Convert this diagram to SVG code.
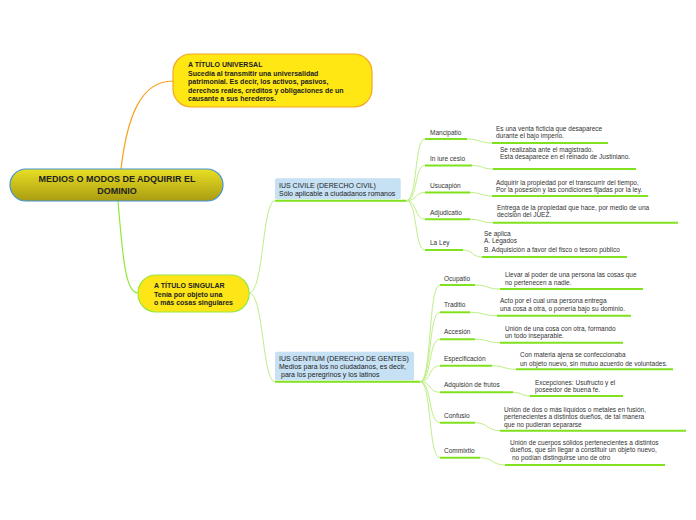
<svg xmlns="http://www.w3.org/2000/svg" width="696" height="520" viewBox="0 0 696 520">
<defs>
<linearGradient id="rootGrad" x1="0" y1="0" x2="0" y2="1">
<stop offset="0" stop-color="#e9df22"/>
<stop offset="1" stop-color="#a99c12"/>
</linearGradient>
</defs>
<style>
text{font-family:"Liberation Sans",Arial,sans-serif;fill:#222}
.b{font-weight:bold}
.t9{font-size:9px}
.t7{font-size:7px}
.t65{font-size:6.5px;fill:#333}
.c{fill:none;stroke:#bdef85;stroke-width:1}
.ul{stroke:#80e21e;stroke-width:2;fill:none}
.sub{fill:#c6e0f4}
</style>
<rect width="696" height="520" fill="#ffffff"/>
<g id="connectors">
<path d="M121,169 C127,118 140,81 173,81" fill="none" stroke="#f7a21c" stroke-width="1.2"/>
<path d="M118,201 C123,262 126,293 138,293" fill="none" stroke="#8fe83a" stroke-width="1.2"/>
<path class="c" d="M249,293 C264,293 262,200.7 275,200.7"/>
<path class="c" d="M249,293 C264,293 262,381.7 275,381.7"/>
<path class="c" d="M406,200.7 C418,200.7 414,139 425,139"/>
<path class="c" d="M406,200.7 C418,200.7 414,165.5 425,165.5"/>
<path class="c" d="M406,200.7 C418,200.7 414,192.5 425,192.5"/>
<path class="c" d="M406,200.7 C418,200.7 414,219.3 425,219.3"/>
<path class="c" d="M406,200.7 C418,200.7 414,250 425,250"/>
<path class="c" d="M420,381.7 C432,381.7 428,285 440,285"/>
<path class="c" d="M420,381.7 C432,381.7 428,312.3 440,312.3"/>
<path class="c" d="M420,381.7 C432,381.7 428,339.3 440,339.3"/>
<path class="c" d="M420,381.7 C432,381.7 428,365.7 440,365.7"/>
<path class="c" d="M420,381.7 C432,381.7 428,392.3 440,392.3"/>
<path class="c" d="M420,381.7 C432,381.7 428,422.7 440,422.7"/>
<path class="c" d="M420,381.7 C432,381.7 428,457.7 440,457.7"/>
<path class="c" d="M467,139 C480,139 479,143 492,143"/>
<path class="c" d="M472,165.5 C483,165.5 482,169 493,169"/>
<path class="c" d="M470,192.5 C481,192.5 481,196 492,196"/>
<path class="c" d="M470,219.3 C482,219.3 481,222.7 493,222.7"/>
<path class="c" d="M463,250 C473,250 472,257 482,257"/>
<path class="c" d="M475,285 C488,285 487,289 500,289"/>
<path class="c" d="M470,312.3 C484,312.3 483,315.7 497,315.7"/>
<path class="c" d="M475,339.3 C488,339.3 487,342.7 500,342.7"/>
<path class="c" d="M492,365.7 C504,365.7 504,369.3 516,369.3"/>
<path class="c" d="M513,392.3 C522,392.3 521,396 530,396"/>
<path class="c" d="M475,422.7 C488,422.7 487,430.7 500,430.7"/>
<path class="c" d="M480,457.7 C493,457.7 492,465 505,465"/>
</g>
<g id="root">
<rect x="10" y="169" width="213" height="32" rx="16" fill="url(#rootGrad)" stroke="#3f93d8" stroke-width="1.2"/>
<text class="b t9" x="117" y="182.3" text-anchor="middle">MEDIOS O MODOS DE ADQUIRIR EL</text>
<text class="b t9" x="117" y="193.5" text-anchor="middle">DOMINIO</text>
</g>
<g id="universal">
<rect x="173" y="54" width="199" height="53" rx="18" fill="#ffe714" stroke="#f5a623" stroke-width="1.2"/>
<text class="b t7" x="188" y="67">A TÍTULO UNIVERSAL</text>
<text class="b t7" x="188" y="75.5">Sucedía al transmitir una universalidad</text>
<text class="b t7" x="188" y="84.2">patrimonial. Es decir, los activos, pasivos,</text>
<text class="b t7" x="188" y="92.8">derechos reales, créditos y obligaciones de un</text>
<text class="b t7" x="188" y="101.3">causante a sus herederos.</text>
</g>
<g id="singular">
<rect x="138" y="275" width="111" height="37" rx="18" fill="#fde517" stroke="#97e83e" stroke-width="1.2"/>
<text class="b t7" x="154" y="288.3">A TÍTULO SINGULAR</text>
<text class="b t7" x="154" y="296.6">Tenía por objeto una</text>
<text class="b t7" x="154" y="305.2">o más cosas singulares</text>
</g>
<g id="ius-civile">
<rect class="sub" x="275" y="178.3" width="125.7" height="21" rx="2"/>
<line class="ul" x1="275" y1="200.7" x2="406" y2="200.7"/>
<text class="t7" x="279" y="187.6">IUS CIVILE (DERECHO CIVIL)</text>
<text class="t7" x="279" y="195.8">Sólo aplicable a ciudadanos romanos</text>
</g>
<g id="ius-gentium">
<rect class="sub" x="275" y="351.7" width="139" height="28.5" rx="2"/>
<line class="ul" x1="275" y1="381.7" x2="420" y2="381.7"/>
<text class="t7" x="279" y="360.8">IUS GENTIUM (DERECHO DE GENTES)</text>
<text class="t7" x="279" y="368.6">Medios para los no ciudadanos, es decir,</text>
<text class="t7" x="281" y="376.8">para los peregrinos y los latinos</text>
</g>
<g id="mancipatio">
<line class="ul" x1="425" y1="139" x2="467" y2="139"/>
<text class="t65" x="430" y="134.5">Mancipatio</text>
</g>
<g id="mancipatio-desc">
<line class="ul" x1="492" y1="143" x2="608" y2="143"/>
<text class="t65" x="496" y="130.5">Es una venta ficticia que desaparece</text>
<text class="t65" x="496" y="138">durante el bajo imperio.</text>
</g>
<g id="in-iure-cesio">
<line class="ul" x1="425" y1="165.5" x2="472" y2="165.5"/>
<text class="t65" x="430" y="160.5">In iure cesio</text>
</g>
<g id="in-iure-cesio-desc">
<line class="ul" x1="493" y1="169" x2="636" y2="169"/>
<text class="t65" x="500" y="151.5">Se realizaba ante el magistrado.</text>
<text class="t65" x="500" y="158.5">Esta desaparece en el reinado de Justiniano.</text>
</g>
<g id="usucapion">
<line class="ul" x1="425" y1="192.5" x2="470" y2="192.5"/>
<text class="t65" x="430" y="188">Usucapión</text>
</g>
<g id="usucapion-desc">
<line class="ul" x1="492" y1="196" x2="648" y2="196"/>
<text class="t65" x="496" y="185">Adquirir la propiedad por el transcurrir del tiempo,</text>
<text class="t65" x="496" y="191.7">Por la posesión y las condiciones fijadas por la ley.</text>
</g>
<g id="adjudicatio">
<line class="ul" x1="425" y1="219.3" x2="470" y2="219.3"/>
<text class="t65" x="430" y="214.5">Adjudicatio</text>
</g>
<g id="adjudicatio-desc">
<line class="ul" x1="493" y1="222.7" x2="678" y2="222.7"/>
<text class="t65" x="497" y="210">Entrega de la propiedad que hace, por medio de una</text>
<text class="t65" x="497" y="216.7">decisión del JUEZ.</text>
</g>
<g id="la-ley">
<line class="ul" x1="425" y1="250" x2="463" y2="250"/>
<text class="t65" x="430" y="245">La Ley</text>
</g>
<g id="la-ley-desc">
<line class="ul" x1="482" y1="257" x2="627" y2="257"/>
<text class="t65" x="484" y="235.6">Se aplica</text>
<text class="t65" x="484" y="243.3">A. Legados</text>
<text class="t65" x="484" y="251.8">B. Adquisición a favor del fisco o tesoro público</text>
</g>
<g id="ocupatio">
<line class="ul" x1="440" y1="285" x2="475" y2="285"/>
<text class="t65" x="444" y="281.3">Ocupatio</text>
</g>
<g id="ocupatio-desc">
<line class="ul" x1="500" y1="289" x2="643" y2="289"/>
<text class="t65" x="505" y="277.3">Llevar al poder de una persona las cosas que</text>
<text class="t65" x="505" y="284.6">no pertenecen a nadie.</text>
</g>
<g id="traditio">
<line class="ul" x1="440" y1="312.3" x2="470" y2="312.3"/>
<text class="t65" x="444" y="307.3">Traditio</text>
</g>
<g id="traditio-desc">
<line class="ul" x1="497" y1="315.7" x2="631" y2="315.7"/>
<text class="t65" x="500" y="303">Acto por el cual una persona entrega</text>
<text class="t65" x="500" y="310.6">una cosa a otra, o ponería bajo su dominio.</text>
</g>
<g id="accesion">
<line class="ul" x1="440" y1="339.3" x2="475" y2="339.3"/>
<text class="t65" x="444" y="334">Accesión</text>
</g>
<g id="accesion-desc">
<line class="ul" x1="500" y1="342.7" x2="623" y2="342.7"/>
<text class="t65" x="505" y="330.6">Unión de una cosa con otra, formando</text>
<text class="t65" x="505" y="338.3">un todo inseparable.</text>
</g>
<g id="especificacion">
<line class="ul" x1="440" y1="365.7" x2="492" y2="365.7"/>
<text class="t65" x="444" y="361.3">Especificación</text>
</g>
<g id="especificacion-desc">
<line class="ul" x1="516" y1="369.3" x2="673" y2="369.3"/>
<text class="t65" x="520" y="357.3">Con materia ajena se confeccionaba</text>
<text class="t65" x="520" y="365.6">un objeto nuevo, sin mutuo acuerdo de voluntades.</text>
</g>
<g id="adquisicion-frutos">
<line class="ul" x1="440" y1="392.3" x2="513" y2="392.3"/>
<text class="t65" x="444" y="387.3">Adquisión de frutos</text>
</g>
<g id="adquisicion-frutos-desc">
<line class="ul" x1="530" y1="396" x2="623" y2="396"/>
<text class="t65" x="535" y="384.6">Excepciones: Usufructo y el</text>
<text class="t65" x="535" y="391.6">poseedor de buena fe.</text>
</g>
<g id="confusio">
<line class="ul" x1="440" y1="422.7" x2="475" y2="422.7"/>
<text class="t65" x="444" y="418.3">Confusio</text>
</g>
<g id="confusio-desc">
<line class="ul" x1="500" y1="430.7" x2="686" y2="430.7"/>
<text class="t65" x="504" y="411.6">Unión de dos o más líquidos o metales en fusión,</text>
<text class="t65" x="504" y="419">pertenecientes a distintos dueños, de tal manera</text>
<text class="t65" x="504" y="426.6">que no pudieran separarse</text>
</g>
<g id="commixtio">
<line class="ul" x1="440" y1="457.7" x2="480" y2="457.7"/>
<text class="t65" x="444" y="453.3">Commixtio</text>
</g>
<g id="commixtio-desc">
<line class="ul" x1="505" y1="465" x2="665" y2="465"/>
<text class="t65" x="510" y="445">Unión de cuerpos sólidos pertenecientes a distintos</text>
<text class="t65" x="510" y="452.3">dueños, que sin llegar a constituir un objeto nuevo,</text>
<text class="t65" x="512" y="459.6">no podían distinguirse uno de otro</text>
</g>
</svg>
